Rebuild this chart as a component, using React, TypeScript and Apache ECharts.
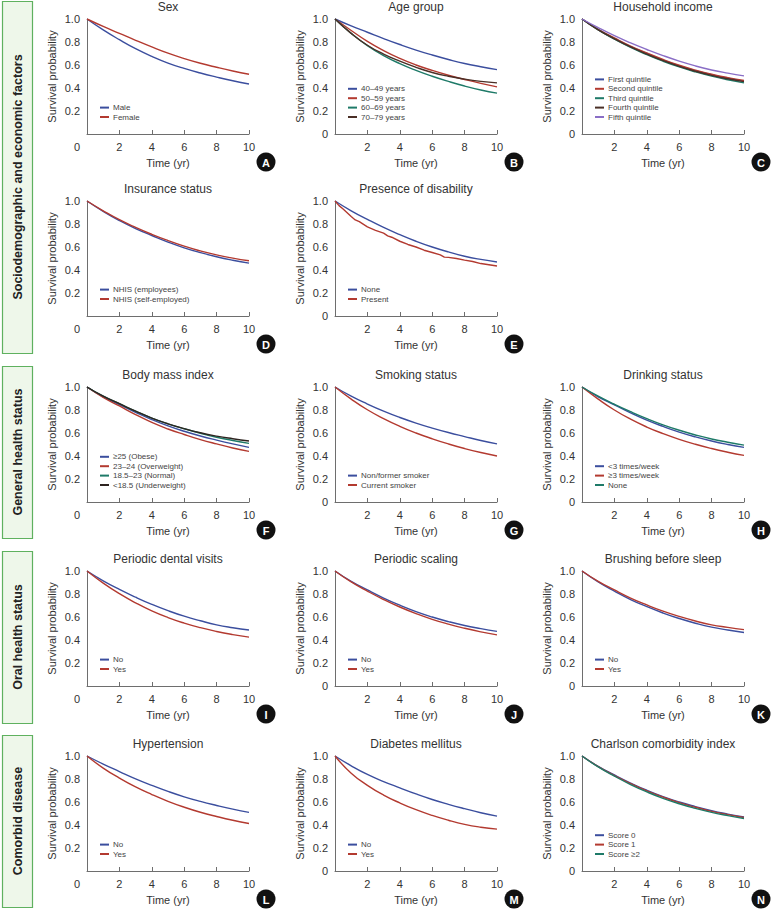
import React, { useEffect, useRef } from 'react';
import * as echarts from 'echarts';

// ---------- data ----------
const TIME = [0, 1, 2, 3, 4, 5, 6, 7, 8, 9, 10];
const X_TICKS = [0, 2, 4, 6, 8, 10];
const Y_TICKS = [0, 0.2, 0.4, 0.6, 0.8, 1.0];

const SEX_MALE = [1, 0.905, 0.82, 0.742, 0.675, 0.617, 0.57, 0.53, 0.495, 0.463, 0.435];
const SEX_FEMALE = [1, 0.935, 0.875, 0.815, 0.757, 0.703, 0.656, 0.615, 0.58, 0.548, 0.52];

const AGE_40 = [1, 0.94, 0.885, 0.83, 0.778, 0.73, 0.687, 0.648, 0.613, 0.585, 0.56];
const AGE_50 = [1, 0.9, 0.805, 0.725, 0.657, 0.6, 0.553, 0.511, 0.474, 0.44, 0.41];
const AGE_60 = [1, 0.875, 0.768, 0.682, 0.612, 0.553, 0.502, 0.457, 0.417, 0.383, 0.355];
const AGE_70 = [1, 0.875, 0.772, 0.695, 0.633, 0.58, 0.535, 0.502, 0.477, 0.458, 0.445];

const INC_Q1 = [1, 0.91, 0.83, 0.76, 0.7, 0.643, 0.593, 0.551, 0.515, 0.485, 0.46];
const INC_Q2 = [1, 0.91, 0.835, 0.765, 0.705, 0.648, 0.598, 0.556, 0.52, 0.49, 0.465];
const INC_Q3 = [1, 0.905, 0.825, 0.753, 0.69, 0.633, 0.583, 0.54, 0.503, 0.472, 0.445];
const INC_Q4 = [1, 0.905, 0.828, 0.757, 0.695, 0.638, 0.588, 0.546, 0.51, 0.48, 0.455];
const INC_Q5 = [1, 0.925, 0.855, 0.792, 0.735, 0.682, 0.634, 0.592, 0.557, 0.529, 0.505];

const INS_EMP = [1, 0.91, 0.83, 0.76, 0.7, 0.643, 0.593, 0.551, 0.515, 0.485, 0.46];
const INS_SELF = [1, 0.915, 0.837, 0.77, 0.71, 0.656, 0.607, 0.566, 0.531, 0.503, 0.48];

const DIS_NONE = [1, 0.915, 0.84, 0.77, 0.707, 0.65, 0.6, 0.557, 0.52, 0.492, 0.47];
const DIS_PRESENT_TIME = [0, 0.25, 0.5, 1, 1.25, 1.5, 2, 2.5, 3, 3.25, 3.5, 4, 4.5, 5, 5.5, 6, 6.5, 6.75, 7, 7.5, 8, 8.5, 9, 9.5, 10];
const DIS_PRESENT = [1, 0.96, 0.93, 0.865, 0.835, 0.82, 0.775, 0.745, 0.72, 0.697, 0.685, 0.65, 0.622, 0.6, 0.572, 0.552, 0.532, 0.512, 0.51, 0.5, 0.486, 0.474, 0.456, 0.446, 0.435];

const BMI_OBESE = [1, 0.915, 0.847, 0.78, 0.717, 0.662, 0.615, 0.574, 0.538, 0.505, 0.475];
const BMI_OVER = [1, 0.91, 0.835, 0.76, 0.692, 0.635, 0.587, 0.543, 0.505, 0.47, 0.44];
const BMI_NORMAL = [1, 0.92, 0.855, 0.79, 0.73, 0.68, 0.637, 0.598, 0.563, 0.535, 0.51];
const BMI_UNDER = [1, 0.92, 0.855, 0.79, 0.73, 0.68, 0.638, 0.602, 0.573, 0.55, 0.53];

const SMK_NON = [1, 0.92, 0.852, 0.79, 0.735, 0.686, 0.643, 0.604, 0.569, 0.535, 0.505];
const SMK_CUR = [1, 0.895, 0.802, 0.725, 0.658, 0.6, 0.55, 0.505, 0.465, 0.43, 0.4];

const DRK_LT3 = [1, 0.915, 0.845, 0.775, 0.712, 0.657, 0.608, 0.566, 0.53, 0.5, 0.475];
const DRK_GE3 = [1, 0.895, 0.8, 0.72, 0.652, 0.595, 0.545, 0.502, 0.465, 0.433, 0.405];
const DRK_NONE = [1, 0.92, 0.85, 0.785, 0.725, 0.671, 0.624, 0.583, 0.548, 0.52, 0.495];

const DEN_NO = [1, 0.915, 0.84, 0.772, 0.71, 0.655, 0.607, 0.567, 0.532, 0.507, 0.487];
const DEN_YES = [1, 0.895, 0.803, 0.723, 0.653, 0.595, 0.547, 0.507, 0.474, 0.447, 0.425];

const SCL_NO = [1, 0.91, 0.835, 0.765, 0.703, 0.647, 0.6, 0.56, 0.526, 0.499, 0.475];
const SCL_YES = [1, 0.905, 0.825, 0.752, 0.687, 0.63, 0.58, 0.538, 0.502, 0.471, 0.445];

const BRU_NO = [1, 0.905, 0.825, 0.752, 0.69, 0.635, 0.587, 0.546, 0.512, 0.487, 0.465];
const BRU_YES = [1, 0.91, 0.835, 0.765, 0.705, 0.651, 0.605, 0.565, 0.532, 0.51, 0.49];

const HTN_NO = [1, 0.93, 0.865, 0.802, 0.745, 0.692, 0.645, 0.605, 0.57, 0.538, 0.51];
const HTN_YES = [1, 0.895, 0.808, 0.731, 0.665, 0.606, 0.555, 0.511, 0.474, 0.441, 0.413];

const DM_NO = [1, 0.915, 0.84, 0.778, 0.723, 0.67, 0.622, 0.58, 0.542, 0.507, 0.477];
const DM_YES = [1, 0.85, 0.745, 0.66, 0.592, 0.533, 0.483, 0.441, 0.406, 0.381, 0.364];

const CCI_0 = [1, 0.91, 0.835, 0.765, 0.702, 0.647, 0.6, 0.56, 0.524, 0.495, 0.47];
const CCI_1 = [1, 0.908, 0.83, 0.76, 0.697, 0.642, 0.594, 0.554, 0.518, 0.49, 0.465];
const CCI_2 = [1, 0.905, 0.825, 0.752, 0.688, 0.632, 0.585, 0.545, 0.51, 0.481, 0.456];

// ---------- styles ----------
const BLUE = '#3b4e9e';
const RED = '#b33a30';
const TEAL = '#1e7a68';
const BROWN = '#4a2f26';
const PURPLE = '#8a6ec6';
const DARK = '#2e2420';

const FONT = '"Liberation Sans", Arial, sans-serif';
const COL_X = [87, 335, 582];
const ROW_Y = [19, 201, 387, 571, 756];
const PLOT_W = 162;
const PLOT_H = 115;

type S = { name: string; color: string; values: number[]; time?: number[]; smooth?: boolean };
type P = { title: string; letter: string; row: number; col: number; series: S[] };

const PANELS: P[] = [
  { title: 'Sex', letter: 'A', row: 0, col: 0, series: [
    { name: 'Male', color: BLUE, values: SEX_MALE },
    { name: 'Female', color: RED, values: SEX_FEMALE }] },
  { title: 'Age group', letter: 'B', row: 0, col: 1, series: [
    { name: '40–49 years', color: BLUE, values: AGE_40 },
    { name: '50–59 years', color: RED, values: AGE_50 },
    { name: '60–69 years', color: TEAL, values: AGE_60 },
    { name: '70–79 years', color: BROWN, values: AGE_70 }] },
  { title: 'Household income', letter: 'C', row: 0, col: 2, series: [
    { name: 'First quintile', color: BLUE, values: INC_Q1 },
    { name: 'Second quintile', color: RED, values: INC_Q2 },
    { name: 'Third quintile', color: TEAL, values: INC_Q3 },
    { name: 'Fourth quintile', color: BROWN, values: INC_Q4 },
    { name: 'Fifth quintile', color: PURPLE, values: INC_Q5 }] },
  { title: 'Insurance status', letter: 'D', row: 1, col: 0, series: [
    { name: 'NHIS (employees)', color: BLUE, values: INS_EMP },
    { name: 'NHIS (self-employed)', color: RED, values: INS_SELF }] },
  { title: 'Presence of disability', letter: 'E', row: 1, col: 1, series: [
    { name: 'None', color: BLUE, values: DIS_NONE },
    { name: 'Present', color: RED, values: DIS_PRESENT, time: DIS_PRESENT_TIME, smooth: false }] },
  { title: 'Body mass index', letter: 'F', row: 2, col: 0, series: [
    { name: '≥25 (Obese)', color: BLUE, values: BMI_OBESE },
    { name: '23–24 (Overweight)', color: RED, values: BMI_OVER },
    { name: '18.5–23 (Normal)', color: TEAL, values: BMI_NORMAL },
    { name: '<18.5 (Underweight)', color: DARK, values: BMI_UNDER }] },
  { title: 'Smoking status', letter: 'G', row: 2, col: 1, series: [
    { name: 'Non/former smoker', color: BLUE, values: SMK_NON },
    { name: 'Current smoker', color: RED, values: SMK_CUR }] },
  { title: 'Drinking status', letter: 'H', row: 2, col: 2, series: [
    { name: '<3 times/week', color: BLUE, values: DRK_LT3 },
    { name: '≥3 times/week', color: RED, values: DRK_GE3 },
    { name: 'None', color: TEAL, values: DRK_NONE }] },
  { title: 'Periodic dental visits', letter: 'I', row: 3, col: 0, series: [
    { name: 'No', color: BLUE, values: DEN_NO },
    { name: 'Yes', color: RED, values: DEN_YES }] },
  { title: 'Periodic scaling', letter: 'J', row: 3, col: 1, series: [
    { name: 'No', color: BLUE, values: SCL_NO },
    { name: 'Yes', color: RED, values: SCL_YES }] },
  { title: 'Brushing before sleep', letter: 'K', row: 3, col: 2, series: [
    { name: 'No', color: BLUE, values: BRU_NO },
    { name: 'Yes', color: RED, values: BRU_YES }] },
  { title: 'Hypertension', letter: 'L', row: 4, col: 0, series: [
    { name: 'No', color: BLUE, values: HTN_NO },
    { name: 'Yes', color: RED, values: HTN_YES }] },
  { title: 'Diabetes mellitus', letter: 'M', row: 4, col: 1, series: [
    { name: 'No', color: BLUE, values: DM_NO },
    { name: 'Yes', color: RED, values: DM_YES }] },
  { title: 'Charlson comorbidity index', letter: 'N', row: 4, col: 2, series: [
    { name: 'Score 0', color: BLUE, values: CCI_0 },
    { name: 'Score 1', color: RED, values: CCI_1 },
    { name: 'Score ≥2', color: TEAL, values: CCI_2 }] },
];

const GROUPS = [
  { label: 'Sociodemographic and economic factors', y0: 1, y1: 353 },
  { label: 'General health status', y0: 366, y1: 538 },
  { label: 'Oral health status', y0: 551, y1: 723 },
  { label: 'Comorbid disease', y0: 735, y1: 907 },
];

const AXIS_COLOR = '#6e6e6e';
const TEXT_COLOR = '#333';

function buildOption() {
  const grid: any[] = [];
  const xAxis: any[] = [];
  const yAxis: any[] = [];
  const series: any[] = [];
  const legend: any[] = [];
  const graphic: any[] = [];

  GROUPS.forEach((g) => {
    graphic.push({
      type: 'rect', shape: { x: 2.5, y: g.y0 + 0.5, width: 30, height: g.y1 - g.y0 },
      style: { fill: '#eef7ea', stroke: '#5fb15f', lineWidth: 1.2 },
    });
    graphic.push({
      type: 'text', x: 17.5, y: (g.y0 + g.y1) / 2, rotation: Math.PI / 2,
      style: { text: g.label, align: 'center', verticalAlign: 'middle', fill: '#222',
        font: `bold 12.5px ${FONT}` },
    });
  });

  PANELS.forEach((p, i) => {
    const left = COL_X[p.col];
    const top = ROW_Y[p.row];
    const firstCol = p.col === 0;
    grid.push({ left, top, width: PLOT_W, height: PLOT_H, containLabel: false });
    xAxis.push({
      gridIndex: i, type: 'value', min: X_TICKS[0], max: X_TICKS[X_TICKS.length - 1],
      interval: X_TICKS[1] - X_TICKS[0],
      axisLine: { show: true, lineStyle: { color: AXIS_COLOR, width: 1 } },
      axisTick: { show: true, inside: true, length: 4, lineStyle: { color: AXIS_COLOR } },
      splitLine: { show: false },
      axisLabel: {
        color: TEXT_COLOR, fontSize: 11, fontFamily: FONT, margin: 7,
        formatter: (v: number) => (v === 0 ? (firstCol ? '{z|0}' : '') : String(v)),
        rich: { z: { padding: [0, 20, 0, 0], fontSize: 11, color: TEXT_COLOR, fontFamily: FONT } },
      },
      name: 'Time (yr)', nameLocation: 'middle', nameGap: 23,
      nameTextStyle: { color: TEXT_COLOR, fontSize: 11, fontFamily: FONT, fontWeight: 400 },
    });
    yAxis.push({
      gridIndex: i, type: 'value', min: Y_TICKS[0], max: Y_TICKS[Y_TICKS.length - 1],
      interval: Y_TICKS[1] - Y_TICKS[0],
      axisLine: { show: true, lineStyle: { color: AXIS_COLOR, width: 1 } },
      axisTick: { show: false },
      splitLine: { show: false },
      axisLabel: {
        color: TEXT_COLOR, fontSize: 11, fontFamily: FONT, margin: 7,
        formatter: (v: number) => (v === 0 ? (firstCol ? '' : '0') : v.toFixed(1)),
      },
      name: 'Survival probability', nameLocation: 'middle', nameGap: 30,
      nameTextStyle: { color: TEXT_COLOR, fontSize: 11, fontFamily: FONT, fontWeight: 400 },
    });
    p.series.forEach((s) => {
      const t = s.time || TIME;
      series.push({
        type: 'line', name: s.name, xAxisIndex: i, yAxisIndex: i,
        data: s.values.map((v, k) => [t[k], v]),
        showSymbol: false, symbol: 'none',
        smooth: s.smooth === false ? false : 0.5,
        lineStyle: { color: s.color, width: 1.4 }, itemStyle: { color: s.color },
      });
    });
    const n = p.series.length;
    const step = 9.4;
    const axisY = top + PLOT_H;
    legend.push({
      orient: 'vertical', left: left + 13, top: axisY - 17 - (n - 1) * step - step / 2,
      padding: 0, itemGap: 0, itemWidth: 9, itemHeight: 2, icon: 'rect', selectedMode: false,
      textStyle: { fontSize: 8, color: '#444', fontFamily: FONT, lineHeight: step, padding: [0, 0, 0, -1] },
      data: p.series.map((s) => ({ name: s.name, itemStyle: { color: s.color }, lineStyle: { color: s.color } })),
    });
    graphic.push({
      type: 'circle', shape: { cx: left + PLOT_W + 17, cy: axisY + 28, r: 9.5 },
      style: { fill: '#111' },
    });
    graphic.push({
      type: 'text', x: left + PLOT_W + 17, y: axisY + 28.5,
      style: { text: p.letter, align: 'center', verticalAlign: 'middle', fill: '#fff',
        font: `bold 11px ${FONT}` },
    });
    graphic.push({
      type: 'text', x: left + PLOT_W / 2, y: top - 12,
      style: { text: p.title, align: 'center', verticalAlign: 'middle', fill: TEXT_COLOR,
        font: `12px ${FONT}` },
    });
  });

  return {
    animation: false,
    backgroundColor: '#fff',
    textStyle: { fontFamily: FONT },
    grid, xAxis, yAxis, series, legend, graphic,
  };
}

export default function App() {
  const ref = useRef<HTMLDivElement>(null);
  useEffect(() => {
    document.body.style.margin = '0';
    if (!ref.current) return;
    const chart = echarts.init(ref.current, null, { renderer: 'svg' });
    chart.setOption(buildOption() as any);
    return () => chart.dispose();
  }, []);
  return <div ref={ref} style={{ width: 772, height: 909 }} />;
}
